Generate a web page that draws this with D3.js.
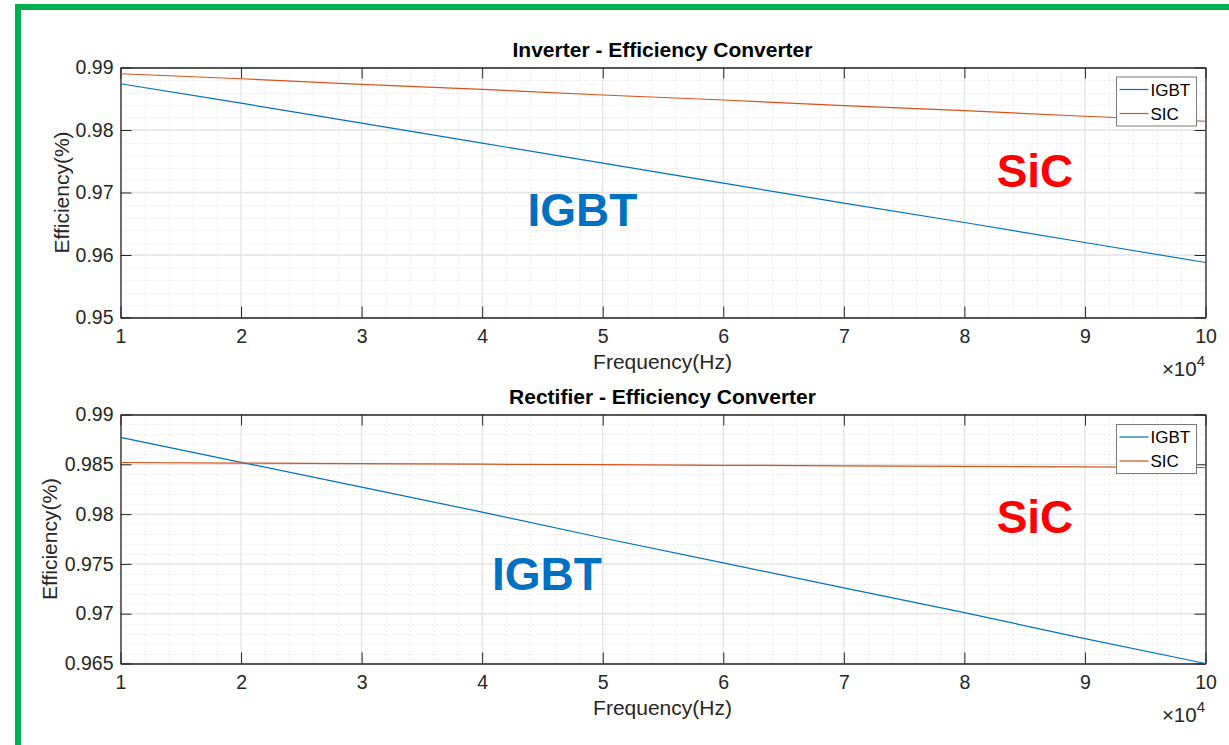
<!DOCTYPE html>
<html>
<head>
<meta charset="utf-8">
<script src="https://cdn.jsdelivr.net/npm/d3@7"></script>
<style>
  body { margin: 0; background: #fff; }
  svg { font-family: "Liberation Sans", Arial, sans-serif; }
</style>
</head>
<body>
<svg id="chart"></svg>
<script>
// size of the svg
var width = 1229;
var height = 745;

// frequency points (x 10^4 Hz)
var freq = [1, 2, 3, 4, 5, 6, 7, 8, 9, 10];

// inverter efficiencies
var invIGBT = [0.9874, 0.9843, 0.9811, 0.9779, 0.9747, 0.9715, 0.9683, 0.9652, 0.9620, 0.9588];
var invSIC = [0.9890, 0.9882, 0.9873, 0.9865, 0.9856, 0.9848, 0.9839, 0.9831, 0.9822, 0.9814];

// rectifier efficiencies
var recIGBT = [0.9877, 0.9852, 0.9827, 0.9802, 0.9776, 0.9751, 0.9726, 0.9701, 0.9675, 0.9650];
var recSIC = [0.98518, 0.98512, 0.98507, 0.98501, 0.98496, 0.98490, 0.98485, 0.98479, 0.98474, 0.98468];

var seriesNames = ["IGBT", "SIC"];
var seriesColors = ["#0072BD", "#D95319"];

var svg = d3.select("#chart").attr("width", width).attr("height", height);

// green frame
svg.append("rect").attr("x", 15).attr("y", 4).attr("width", width).attr("height", 6).attr("fill", "#00B050");
svg.append("rect").attr("x", 15).attr("y", 4).attr("width", 6).attr("height", height).attr("fill", "#00B050");

function drawPanel(opt) {
    var x = d3.scaleLinear().domain([1, 10]).range([120.5, 1205.5]);
    var y = d3.scaleLinear().domain(opt.yDomain).range([opt.bottom, opt.top]);
    var g = svg.append("g");

    // minor grid
    var xMinor = d3.range(1, 10.001, 0.2).filter(function (d) { return Math.abs(d - Math.round(d)) > 0.01; });
    var yMinor = d3.range(opt.yDomain[0], opt.yDomain[1] + 1e-9, opt.minorStep);
    g.selectAll(".xmin").data(xMinor).enter().append("line")
        .attr("x1", function (d) { return Math.round(x(d)) + 0.5; }).attr("x2", function (d) { return Math.round(x(d)) + 0.5; })
        .attr("y1", opt.top).attr("y2", opt.bottom)
        .attr("stroke", "#d9d9d9").attr("stroke-dasharray", "1,3");
    g.selectAll(".ymin").data(yMinor).enter().append("line")
        .attr("x1", x(1)).attr("x2", x(10))
        .attr("y1", function (d) { return Math.round(y(d)) + 0.5; }).attr("y2", function (d) { return Math.round(y(d)) + 0.5; })
        .attr("stroke", "#d9d9d9").attr("stroke-dasharray", "1,3");

    // major grid
    g.selectAll(".xmaj").data(freq).enter().append("line")
        .attr("x1", function (d) { return x(d); }).attr("x2", function (d) { return x(d); })
        .attr("y1", opt.top).attr("y2", opt.bottom)
        .attr("stroke", "#e4e4e4").attr("stroke-width", 1.3);
    g.selectAll(".ymaj").data(opt.yTicks).enter().append("line")
        .attr("x1", x(1)).attr("x2", x(10))
        .attr("y1", function (d) { return y(d); }).attr("y2", function (d) { return y(d); })
        .attr("stroke", "#e4e4e4").attr("stroke-width", 1.3);

    // axes (ticks inward on all sides)
    var xAxis = d3.axisBottom(x).tickValues(freq).tickSizeInner(-11).tickSizeOuter(0).tickPadding(12).tickFormat(d3.format("d"));
    var xTop = d3.axisTop(x).tickValues(freq).tickSizeInner(-11).tickSizeOuter(0).tickFormat("");
    var yAxis = d3.axisLeft(y).tickValues(opt.yTicks).tickSizeInner(-11).tickSizeOuter(0).tickPadding(7).tickFormat(opt.yFormat);
    var yRight = d3.axisRight(y).tickValues(opt.yTicks).tickSizeInner(-11).tickSizeOuter(0).tickFormat("");

    [
        g.append("g").attr("transform", "translate(0," + opt.bottom + ")").call(xAxis),
        g.append("g").attr("transform", "translate(0," + opt.top + ")").call(xTop),
        g.append("g").attr("transform", "translate(120.5,0)").call(yAxis),
        g.append("g").attr("transform", "translate(1205.5,0)").call(yRight)
    ].forEach(function (a) {
        a.select(".domain").attr("stroke", "#262626").attr("stroke-width", 1.3);
        a.selectAll(".tick line").attr("stroke", "#262626");
        a.selectAll(".tick text").attr("fill", "#262626").attr("font-size", 19.5)
            .attr("font-family", "Liberation Sans, Arial, sans-serif");
    });

    // lines
    var line = d3.line().x(function (d, i) { return x(freq[i]); }).y(function (d) { return y(d); });
    [opt.igbt, opt.sic].forEach(function (s, i) {
        g.append("path").datum(s).attr("d", line).attr("fill", "none")
            .attr("stroke", seriesColors[i]).attr("stroke-width", 1.2);
    });

    // title and labels
    g.append("text").attr("x", 662.5).attr("y", opt.top - 11).attr("text-anchor", "middle")
        .attr("font-size", 21).attr("font-weight", "bold").attr("fill", "#000").text(opt.title);
    g.append("text").attr("x", 662.5).attr("y", opt.bottom + 51).attr("text-anchor", "middle")
        .attr("font-size", 21).attr("fill", "#262626").text("Frequency(Hz)");
    g.append("text").attr("transform", "translate(" + opt.yLabelX + "," + (opt.top + opt.bottom) / 2 + ") rotate(-90)")
        .attr("text-anchor", "middle").attr("font-size", 21).attr("fill", "#262626").text("Efficiency(%)");
    var exp = g.append("text").attr("x", 1205).attr("y", opt.bottom + 58).attr("text-anchor", "end")
        .attr("font-size", 20.5).attr("fill", "#262626");
    exp.append("tspan").text("\u00d710");
    exp.append("tspan").attr("dy", -10).attr("font-size", 15).text("4");

    // big annotations
    g.append("text").attr("x", opt.igbtPos[0]).attr("y", opt.igbtPos[1]).attr("text-anchor", "middle")
        .attr("font-size", 46).attr("font-weight", "bold").attr("fill", "#0070C0").text("IGBT");
    g.append("text").attr("x", opt.sicPos[0]).attr("y", opt.sicPos[1]).attr("text-anchor", "middle")
        .attr("font-size", 46).attr("font-weight", "bold").attr("fill", "#FF0000").text("SiC");

    // legend
    var lg = g.append("g").attr("transform", "translate(1116.5," + opt.legendY + ")");
    lg.append("rect").attr("width", 80).attr("height", 49).attr("fill", "#fff")
        .attr("stroke", "#7a7a7a").attr("stroke-width", 1);
    seriesNames.forEach(function (n, i) {
        var cy = 12.5 + i * 24;
        lg.append("line").attr("x1", 3).attr("x2", 32).attr("y1", cy).attr("y2", cy)
            .attr("stroke", seriesColors[i]).attr("stroke-width", 1.2);
        lg.append("text").attr("x", 34).attr("y", cy + 6).attr("font-size", 17).attr("fill", "#000").text(n);
    });
}

drawPanel({
    title: "Inverter - Efficiency Converter",
    yDomain: [0.95, 0.99],
    yTicks: [0.95, 0.96, 0.97, 0.98, 0.99],
    minorStep: 0.002,
    yFormat: d3.format(".2f"),
    top: 67.5, bottom: 317.5,
    yLabelX: 69,
    igbt: invIGBT, sic: invSIC,
    igbtPos: [582.5, 226], sicPos: [1035, 187],
    legendY: 77
});

drawPanel({
    title: "Rectifier - Efficiency Converter",
    yDomain: [0.965, 0.99],
    yTicks: [0.965, 0.97, 0.975, 0.98, 0.985, 0.99],
    minorStep: 0.001,
    yFormat: function (d) { return d3.format(".3~f")(d); },
    top: 414.5, bottom: 663.5,
    yLabelX: 57,
    igbt: recIGBT, sic: recSIC,
    igbtPos: [547, 590], sicPos: [1035, 533],
    legendY: 424.5
});
</script>
</body>
</html>
